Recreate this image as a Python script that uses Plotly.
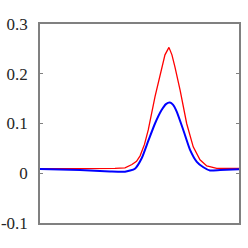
import plotly.graph_objects as go

red_x = [0, 30.2, 37.7, 42.7, 46.2, 48.5, 50.3, 52.5, 54.4, 57.8, 61.1, 62.8, 64.8, 66.3, 67.8, 70.4, 73.7, 77.0, 80.4, 83.8, 88.8, 100]
red_y = [0.009, 0.009, 0.010, 0.011, 0.0176, 0.024, 0.035, 0.058, 0.087, 0.154, 0.214, 0.238, 0.253, 0.238, 0.214, 0.167, 0.100, 0.053, 0.027, 0.0146, 0.010, 0.010]

blue_x = [0, 20.1, 35.2, 42.7, 47.7, 51.1, 54.4, 57.8, 61.1, 63.3, 65.3, 66.8, 68.7, 72.0, 75.4, 78.8, 82.1, 85.4, 90.5, 100]
blue_y = [0.0085, 0.0065, 0.0035, 0.003, 0.009, 0.030, 0.065, 0.100, 0.127, 0.139, 0.142, 0.138, 0.124, 0.087, 0.047, 0.023, 0.012, 0.0055, 0.0065, 0.008]

y_ticks = [-0.1, 0, 0.1, 0.2, 0.3]
y_labels = ["-0.1", "0", "0.1", "0.2", "0.3"]

fig = go.Figure()
fig.add_trace(go.Scatter(x=red_x, y=red_y, mode="lines", line=dict(color="#ff0000", width=1.3), showlegend=False))
fig.add_trace(go.Scatter(x=blue_x, y=blue_y, mode="lines", line=dict(color="#0000ff", width=2, shape="spline", smoothing=0.5), showlegend=False))

frame = "#808080"
tick_font = dict(family="Liberation Serif", size=17, color="#262626")
fig.update_layout(
    width=248, height=248,
    margin=dict(l=40, r=9, t=24, b=25),
    paper_bgcolor="white", plot_bgcolor="white",
    font=tick_font,
    xaxis=dict(range=[0, 100], showticklabels=False, ticks="", showgrid=False, zeroline=False, automargin=False,
               showline=True, linecolor=frame, linewidth=1.5, mirror=True),
    yaxis=dict(range=[-0.1, 0.3], tickvals=y_ticks, ticktext=y_labels, ticks="inside", ticklen=3,
               tickcolor=frame, tickfont=tick_font, ticklabelstandoff=7, showgrid=False, zeroline=False,
               automargin=False, showline=True, linecolor=frame, linewidth=1.5, mirror="ticks"),
)
fig.write_html("out.html", config={"displayModeBar": False},
               post_script="document.body.style.margin='0';document.body.style.padding='0';document.body.style.overflow='hidden';")
